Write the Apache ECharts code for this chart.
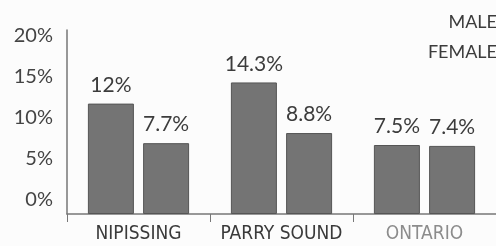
<!DOCTYPE html>
<html>
<head>
  <meta charset="utf-8">
  <title>Nipissing / Parry Sound / Ontario</title>
  <script src="https://fastly.jsdelivr.net/npm/echarts@6/dist/echarts.min.js"></script>
</head>
<body style="margin:0;background:#fcfcfc;">
<div id="chart-container" style="width:496px;height:246px;"></div>
<script type="text/javascript">
  var regions = ['NIPISSING', 'PARRY SOUND', 'ONTARIO'];
  var male = [12, 14.3, 7.5];
  var female = [7.7, 8.8, 7.4];
  var valueLabels = [['12%', '14.3%', '7.5%'], ['7.7%', '8.8%', '7.4%']];
  var regionColors = ['#3a3a3a', '#3a3a3a', '#8c8c8c'];

  var dom = document.getElementById('chart-container');
  var myChart = echarts.init(dom, null, { renderer: 'canvas' });
  var font = 'Lato';
  var narrow = "'Liberation Sans Narrow', 'DejaVu Sans Condensed', Lato";

  var categoryData = regions.map(function (r, i) {
    return { value: r, textStyle: { color: regionColors[i] } };
  });

  function barLabel(idx) {
    return {
      show: true,
      position: 'top',
      distance: 8,
      color: '#3c3c3c',
      fontSize: 21,
      fontFamily: font,
      formatter: function (p) { return valueLabels[idx][p.dataIndex]; }
    };
  }

  var barStyle = { color: '#747474', borderColor: '#555', borderWidth: 1 };

  var option = {
    backgroundColor: '#fcfcfc',
    animation: false,
    legend: {
      orient: 'vertical',
      right: -44,
      top: 8,
      align: 'right',
      itemWidth: 12,
      itemHeight: 10,
      itemGap: 12,
      icon: 'rect',
      data: ['MALE', 'FEMALE'],
      textStyle: { color: '#3c3c3c', fontSize: 18, fontFamily: font, padding: [0, 20, 0, 0] }
    },
    grid: [
      { left: 67, right: -5, top: 30, bottom: 32, containLabel: false },
      { left: 67, right: -5, top: 36, bottom: 46, containLabel: false }
    ],
    xAxis: [
      {
        type: 'category',
        gridIndex: 0,
        data: categoryData,
        axisLine: { lineStyle: { color: '#777', width: 1.5 } },
        axisTick: { show: true, length: 8, lineStyle: { color: '#777' } },
        axisLabel: {
          interval: 0,
          hideOverlap: false,
          fontSize: 19,
          fontFamily: narrow,
          margin: 11
        }
      },
      { type: 'category', gridIndex: 1, data: regions, show: false }
    ],
    yAxis: [
      {
        type: 'value',
        gridIndex: 0,
        min: 0,
        max: 20,
        interval: 5,
        axisLine: { show: true, lineStyle: { color: '#777', width: 1.5 } },
        axisTick: { show: false },
        axisLabel: { show: false },
        splitLine: { show: false }
      },
      {
        type: 'value',
        gridIndex: 1,
        min: 0,
        max: 20,
        interval: 5,
        axisLine: { show: false },
        axisTick: { show: false },
        splitLine: { show: false },
        axisLabel: {
          color: '#444',
          fontSize: 20,
          fontFamily: font,
          margin: 14,
          formatter: '{value}%'
        }
      }
    ],
    series: [
      {
        name: 'MALE',
        type: 'bar',
        data: male,
        barWidth: 46,
        barGap: '20%',
        itemStyle: barStyle,
        label: barLabel(0)
      },
      {
        name: 'FEMALE',
        type: 'bar',
        data: female,
        barWidth: 46,
        barGap: '20%',
        itemStyle: barStyle,
        label: barLabel(1)
      }
    ]
  };

  myChart.setOption(option);
  window.addEventListener('resize', myChart.resize);
</script>
</body>
</html>
